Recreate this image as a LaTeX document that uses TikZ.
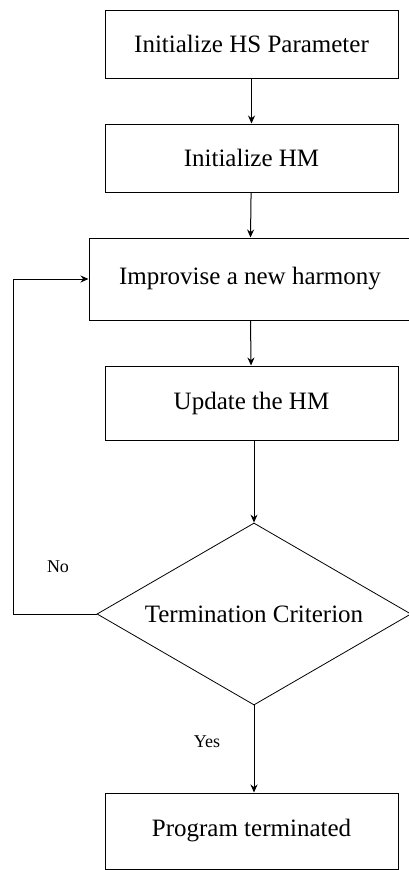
\documentclass[tikz,border=0pt]{standalone}
\usepackage{fontspec}
\setmainfont{Liberation Serif}
\usetikzlibrary{shapes.geometric,arrows.meta}
\begin{document}
\begin{tikzpicture}[x=1pt,y=-1pt,
		box/.style={draw,line width=1pt,minimum width=293pt,minimum height=68pt,font=\fontsize{25}{29}\selectfont},
		arr/.style={line width=1pt,-{Stealth[length=8pt,width=7pt]}},
		lbl/.style={font=\fontsize{18}{22}\selectfont}]
	\useasboundingbox (0,0) rectangle (408,870);
	\node[box] (hsp) at (251.5,44) {Initialize HS Parameter};
	\node[box] (ihm) at (251.5,158) {Initialize HM};
	\node[box,minimum width=322pt,minimum height=82pt] (imp) at (250,279) {Improvise a new harmony};
	\node[box,minimum height=74pt] (upd) at (251.5,403) {Update the HM};
	\node[draw,line width=.8pt,diamond,aspect=1.725,minimum width=314pt,minimum height=182pt,inner sep=0pt,font=\fontsize{25}{29}\selectfont] (crit) at (254,614) {Termination Criterion};
	\node[box,minimum height=76pt] (end) at (251.5,831) {Program terminated};
	\coordinate (back) at (13,614);
	\draw[arr] (hsp) -- (ihm);
	\draw[arr] (ihm) -- (imp);
	\draw[arr] (imp) -- (upd);
	\draw[arr] (upd.south -| crit.north) -- (crit.north);
	\draw[arr] (crit.south) -- (end.north -| crit.south);
	\draw[arr] (crit.west) -- (back) |- (imp.west);
	\node[lbl] (no) at (58,567) {No};
	\node[lbl] (yes) at (207,742) {Yes};
\end{tikzpicture}
\end{document}
